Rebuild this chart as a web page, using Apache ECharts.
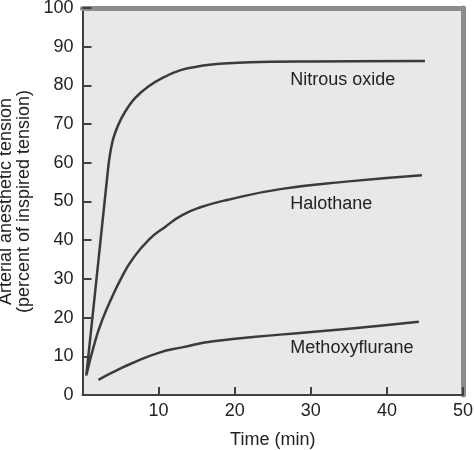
<!DOCTYPE html>
<html>
<head>
  <meta charset="UTF-8">
  <title>Arterial anesthetic tension</title>
  <script src="https://cdn.jsdelivr.net/npm/echarts@6/dist/echarts.min.js"></script>
  <style>
    html, body { margin: 0; height: 100%; background: #fff; }
    #chart { width: 474px; height: 450px; }
  </style>
</head>
<body>
  <div id="chart"></div>
  <script>
    // values: [time (min), percent of inspired tension]
    const nitrousOxide = [[0.5, 5], [2, 33], [3.3, 57.3], [3.6, 62], [4.05, 66.3], [4.7, 69.8],
      [5.6, 73.2], [6.9, 76.7], [8.65, 79.7], [10.4, 81.8], [13, 84], [17, 85.4], [22, 86],
      [30, 86.2], [45, 86.3]];
    const halothane = [[0.55, 5.5], [1.7, 14.2], [2.6, 19.4], [3.9, 25.4], [5.2, 30.6], [6.5, 34.9],
      [8.7, 40.1], [10.9, 43.5], [13.1, 46.5], [15.5, 48.5], [19, 50.4], [26, 53.2], [35, 55.2],
      [44.6, 56.8]];
    const methoxyflurane = [[2.1, 3.9], [4, 5.9], [6.5, 8.2], [10, 10.9], [13.1, 12.3], [17.2, 13.9],
      [26, 15.6], [35, 17.1], [44.2, 18.9]];
    const xTicks = [0, 50, 10];   // min, max, step
    const yTicks = [0, 100, 10];

    const font = 'Liberation Sans, Arial, sans-serif';
    const ink = '#222';
    const curveColor = '#3b3b3b';

    function curve(name, data, at, smooth) {
      return {
        name: name,
        type: 'line',
        data: data,
        smooth: smooth,
        showSymbol: false,
        lineStyle: { color: curveColor, width: 2.5 },
        markPoint: {
          symbol: 'rect',
          symbolSize: 1,
          itemStyle: { color: 'transparent' },
          label: { show: true, position: 'inside', formatter: name, color: ink, fontSize: 18, fontFamily: font },
          data: [{ coord: at }]
        }
      };
    }

    const chart = echarts.init(document.getElementById('chart'));
    chart.setOption({
      animation: false,
      grid: {
        left: 82.5, right: 11, top: 8, bottom: 55,
        outerBoundsMode: 'none', containLabel: false,
        show: true, backgroundColor: '#e8e8e8', borderWidth: 0
      },
      xAxis: [{
        type: 'value', min: xTicks[0], max: xTicks[1], interval: xTicks[2],
        axisLine: { onZero: false, lineStyle: { color: '#404040', width: 2 } },
        axisTick: { inside: true, length: 8, lineStyle: { color: '#404040', width: 2 } },
        axisLabel: { showMinLabel: false, color: ink, fontSize: 18, fontFamily: font, margin: 7 },
        splitLine: { show: false },
        name: 'Time (min)', nameLocation: 'middle', nameGap: 36,
        nameTextStyle: { color: ink, fontSize: 18, fontFamily: font }
      }, {
        type: 'value', position: 'top', min: xTicks[0], max: xTicks[1],
        axisLine: { show: true, onZero: false, lineStyle: { color: '#8c8c8c', width: 5 } },
        axisTick: { show: false }, axisLabel: { show: false }, splitLine: { show: false }
      }],
      yAxis: [{
        type: 'value', min: yTicks[0], max: yTicks[1], interval: yTicks[2],
        axisLine: { onZero: false, lineStyle: { color: '#404040', width: 2 } },
        axisTick: { inside: true, length: 9, lineStyle: { color: '#404040', width: 2 } },
        axisLabel: { color: ink, fontSize: 18, fontFamily: font, margin: 9 },
        splitLine: { show: false },
        name: 'Arterial anesthetic tension\n(percent of inspired tension)',
        nameLocation: 'middle', nameGap: 47,
        nameTextStyle: { color: ink, fontSize: 18, fontFamily: font, lineHeight: 18 }
      }, {
        type: 'value', position: 'right', min: yTicks[0], max: yTicks[1],
        axisLine: { show: true, onZero: false, lineStyle: { color: '#8c8c8c', width: 5 } },
        axisTick: { show: false }, axisLabel: { show: false }, splitLine: { show: false }
      }],
      series: [
        curve('Nitrous oxide', nitrousOxide, [34.2, 81.4], 0.35),
        curve('Halothane', halothane, [32.7, 49.4], 0.5),
        curve('Methoxyflurane', methoxyflurane, [35.4, 12.1], 0.5)
      ]
    });
  </script>
</body>
</html>
